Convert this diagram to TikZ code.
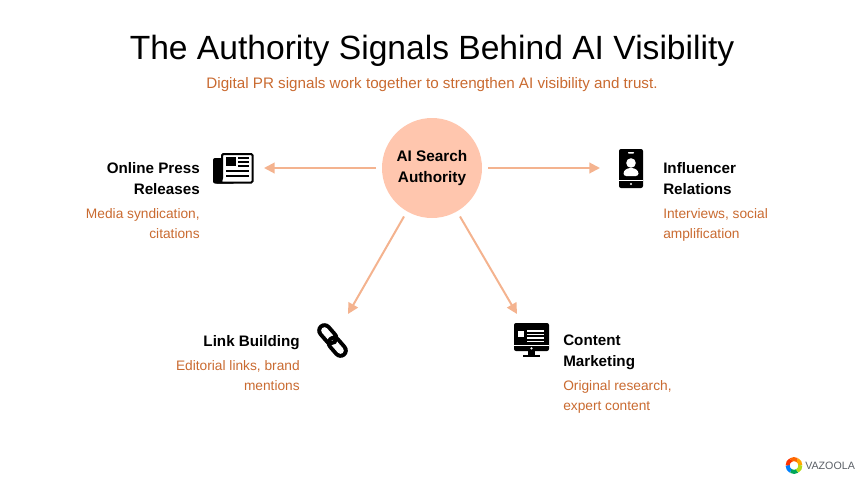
\documentclass[tikz,border=0pt]{standalone}
\usepackage{fontspec}
\setmainfont{Liberation Sans}
\usetikzlibrary{arrows.meta,positioning}
\definecolor{hubpeach}{HTML}{FFC6AE}
\definecolor{arrowpeach}{HTML}{F4B38F}
\definecolor{descorange}{HTML}{C96A30}
\definecolor{logogrey}{HTML}{5A5F66}
\tikzset{
    spoke/.style={draw=arrowpeach, line width=1.5pt, -{Triangle[length=8pt,width=8pt]}},
    headleft/.style={anchor=north east, align=right, inner sep=0pt, font=\fontsize{11.4}{15.75}\selectfont\bfseries},
    headright/.style={anchor=north west, align=left, inner sep=0pt, font=\fontsize{11.4}{15.75}\selectfont\bfseries},
    descleft/.style={anchor=north east, align=right, inner sep=0pt, text=descorange, font=\fontsize{10.3}{15}\selectfont},
    descright/.style={anchor=north west, align=left, inner sep=0pt, text=descorange, font=\fontsize{10.3}{15}\selectfont}
}
\begin{document}
\begin{tikzpicture}[x=0.75pt, y=-0.75pt]
    \useasboundingbox (0,0) rectangle (864,486);

    \node (main_title) [inner sep=0pt, font=\fontsize{25.2}{30}\selectfont] at (432, 51)
    {
        The Authority Signals Behind AI Visibility
    };

    \node (sub_title) [inner sep=0pt, text=descorange, font=\fontsize{11.4}{15}\selectfont] at (432, 85)
    {
        Digital PR signals work together to strengthen AI visibility and trust.
    };

    \node (hub) [circle, fill=hubpeach, minimum size=75pt, inner sep=0pt, outer sep=4.5pt] at (432, 168) {};
    \node (hub_text) [align=center, inner sep=0pt, font=\fontsize{11.5}{15.75}\selectfont\bfseries] at (432, 168.5)
    {
        AI Search\\Authority
    };

    % text blocks
    \node (press_head) [headleft] at (200, 162) {Online Press\\Releases};
    \node (press_desc) [descleft] at (200, 208) {Media syndication,\\citations};
    \node (influencer_head) [headright] at (663, 162) {Influencer\\Relations};
    \node (influencer_desc) [descright] at (663, 208) {Interviews, social\\amplification};
    \node (link_head) [headleft] at (300, 335) {Link Building};
    \node (link_desc) [descleft] at (300, 360) {Editorial links, brand\\mentions};
    \node (content_head) [headright] at (563, 335) {Content\\Marketing};
    \node (content_desc) [descright] at (563, 380) {Original research,\\expert content};

    % arrows
    \coordinate (press_tip) at (264, 168);
    \coordinate (influencer_tip) at (600, 168);
    \coordinate (link_tip) at (348, 314);
    \coordinate (content_tip) at (517, 314);
    \draw[spoke] (hub.west) to (press_tip);
    \draw[spoke] (hub.east) to (influencer_tip);
    \draw[spoke] (hub.240) to (link_tip);
    \draw[spoke] (hub.300) to (content_tip);

    % newspaper
    \fill[rounded corners=1.5pt] (213, 158) rectangle (235, 183.5);
    \draw[fill=white, line width=1.5pt, rounded corners=1pt] (222, 154) -- (252.5, 154) -- (252.5, 182.5) -- (218, 182.5) .. controls (221, 182.5) and (222, 180) .. (222, 177) -- cycle;
    \fill (226, 157) rectangle (236, 166);
    \foreach \y in {158, 162, 166}
        \draw[line width=1pt] (238, \y) -- (249, \y);
    \foreach \y in {171, 176}
        \draw[line width=1pt] (226, \y) -- (249, \y);

    % phone
    \fill[rounded corners=1.5pt] (619, 149) rectangle (643, 188);
    \fill[white, rounded corners=0.5pt] (628, 152) rectangle (634, 153.5);
    \fill[white] (631, 163) circle (3.6pt);
    \fill[white, rounded corners=2pt] (623.5, 176) -- (623.5, 171) -- (628, 168) -- (634, 168) -- (638.5, 171) -- (638.5, 176) -- cycle;
    \fill[white] (619, 180) rectangle (643, 181);
    \fill[white] (631, 184) circle (0.9pt);

    % chain link
    \draw[line width=11pt, line cap=round] (324.5, 330.5) -- (331, 338);
    \draw[white, line width=5pt, line cap=round] (324.5, 330.5) -- (331, 338);
    \draw[line width=11pt, line cap=round] (334, 343) -- (340.5, 350.5);
    \draw[white, line width=5pt, line cap=round] (334, 343) -- (340.5, 350.5);
    \draw[line width=3pt] ([shift={(-139:4pt)}]331, 338) arc[start angle=-139, end angle=41, radius=4pt];

    % monitor
    \fill[rounded corners=1.5pt] (514, 323) rectangle (549, 351);
    \fill[white] (514, 345) rectangle (549, 346);
    \fill[white] (531.5, 348.3) circle (0.9pt);
    \fill[white] (518, 331) rectangle (524, 337);
    \foreach \y in {331, 334.5, 338, 341.5}
        \draw[white, line width=0.9pt] (527, \y) -- (544, \y);
    \fill (528, 351) rectangle (535, 356);
    \fill (523, 355) rectangle (540, 357);

    % logo
    \foreach \a/\c in {0/orange!70!yellow, 60/orange!80!red, 120/red!60!orange, 180/blue!50!cyan, 240/teal!70!green, 300/yellow!70!green}
        \draw[\c, line width=3pt] ([shift={(\a:4.8pt)}]794, 465.5) arc[start angle=\a, end angle=\a+62, radius=4.8pt];
    \node (logo_text) [anchor=west, inner sep=0pt, text=logogrey, font=\fontsize{8}{10}\selectfont] at (805, 466)
    {
        VAZOOLA
    };
\end{tikzpicture}
\end{document}
